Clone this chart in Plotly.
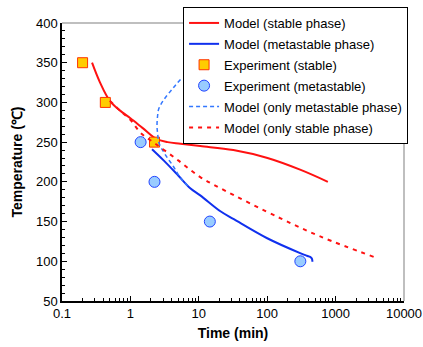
import plotly.graph_objects as go

# Model (stable phase)
stable_t = [0.275, 0.36, 0.5, 0.7, 1.0, 1.5, 2.4, 3.5, 5.4, 10.5, 32, 101, 309, 770]
stable_T = [350, 325, 302, 290, 280, 268, 254, 250, 248, 245, 240, 230, 215, 200]

# Model (metastable phase)
meta_t = [2.07, 3.06, 5.0, 7.5, 10.5, 20.7, 32.5, 100, 309, 380, 425, 445, 455, 458]
meta_T = [241, 227, 208, 192, 183, 163, 153, 129, 110, 107, 105.5, 104, 102, 99.5]

# Experiment (stable)
exp_s_t = [0.2, 0.43, 2.25]
exp_s_T = [350, 300, 250]

# Experiment (metastable)
exp_m_t = [1.41, 2.25, 14.5, 305]
exp_m_T = [250, 200, 150, 100]

# Model (only metastable phase)
only_m_t = [5.4, 4.2, 3.06, 2.6, 2.49, 2.45, 2.5, 2.62, 3.2, 4.28, 5.4, 7.1]
only_m_T = [329, 318, 303, 292, 282, 270, 261, 249, 235, 219, 205, 194]

# Model (only stable phase)
only_s_t = [0.5, 0.7, 1.0, 1.4, 2.24, 5.0, 10.5, 20.7, 157, 607, 3760]
only_s_T = [302, 290, 278, 262, 249, 227, 206, 192, 154, 131, 105]

# Axis ticks
x_ticks = [0.1, 1, 10, 100, 1000, 10000]
x_ticklabels = ["0.1", "1", "10", "100", "1000", "10000"]
x_minor = [m * d for d in [0.1, 1, 10, 100, 1000] for m in range(2, 10)]

fig = go.Figure()
fig.add_trace(go.Scatter(x=stable_t, y=stable_T, mode="lines", name="Model (stable phase)",
                         line=dict(color="#ff1111", width=2, shape="spline"), legendgroup="a"))
fig.add_trace(go.Scatter(x=meta_t, y=meta_T, mode="lines", name="Model (metastable phase)",
                         line=dict(color="#1030ee", width=2, shape="spline"), legendgroup="b"))
fig.add_trace(go.Scatter(x=exp_s_t, y=exp_s_T, mode="markers", name="Experiment (stable)",
                         marker=dict(symbol="square", size=10, color="#ffcc00",
                                     line=dict(color="#ff3300", width=1)), legendgroup="c"))
fig.add_trace(go.Scatter(x=exp_m_t, y=exp_m_T, mode="markers", name="Experiment (metastable)",
                         marker=dict(symbol="circle", size=11, color="#99ccff",
                                     line=dict(color="#2244ff", width=1)), legendgroup="d"))
fig.add_trace(go.Scatter(x=only_m_t, y=only_m_T, mode="lines", name="Model (only metastable phase)",
                         line=dict(color="#3377ff", width=1.5, dash="4px,3px", shape="spline"),
                         legendgroup="e"))
fig.add_trace(go.Scatter(x=only_s_t, y=only_s_T, mode="lines", name="Model (only stable phase)",
                         line=dict(color="#ff1111", width=2, dash="4px,5px", shape="spline"),
                         legendgroup="f"))

font = "Liberation Sans, Arial, sans-serif"
fig.update_layout(
    width=423, height=347,
    margin=dict(l=62, r=19, t=23, b=46, autoexpand=False),
    paper_bgcolor="white", plot_bgcolor="white",
    font=dict(family=font, size=13, color="black"),
    showlegend=True,
    legend=dict(x=0.354, y=1.0576, xanchor="left", yanchor="top",
                bgcolor="white", bordercolor="black", borderwidth=1,
                font=dict(size=13, family=font), traceorder="grouped",
                tracegroupgap=1, itemwidth=30),
    xaxis=dict(type="log", range=[-1, 4], tickvals=x_ticks, ticktext=x_ticklabels,
               ticks="inside", ticklen=5, tickcolor="black", showline=True,
               linecolor="black", linewidth=1.5, showgrid=False, zeroline=False,
               automargin=False,
               minor=dict(tickvals=x_minor, ticks="inside", ticklen=3, tickcolor="black",
                          showgrid=False),
               title=dict(text="<b>Time (min)</b>", font=dict(size=14), standoff=8)),
    yaxis=dict(range=[50, 400], dtick=50, ticks="inside", ticklen=5, tickcolor="black",
               showline=True, linecolor="black", linewidth=1.5, showgrid=False,
               zeroline=False, automargin=False,
               minor=dict(dtick=10, ticks="inside", ticklen=3, tickcolor="black", showgrid=False),
               title=dict(text="<b>Temperature (℃)</b>", font=dict(size=14), standoff=10)),
)
fig.add_shape(type="line", xref="paper", yref="paper", x0=0, x1=1, y0=1, y1=1,
              line=dict(color="#aaaaaa", width=1.5))
fig.add_shape(type="line", xref="paper", yref="paper", x0=1, x1=1, y0=0, y1=1,
              line=dict(color="#aaaaaa", width=1.5))
fig.write_html("out.html", config={"displayModeBar": False},
               post_script="document.body.style.margin='0';"
                           "document.body.style.overflow='hidden';"
                           "document.documentElement.style.overflow='hidden';")
